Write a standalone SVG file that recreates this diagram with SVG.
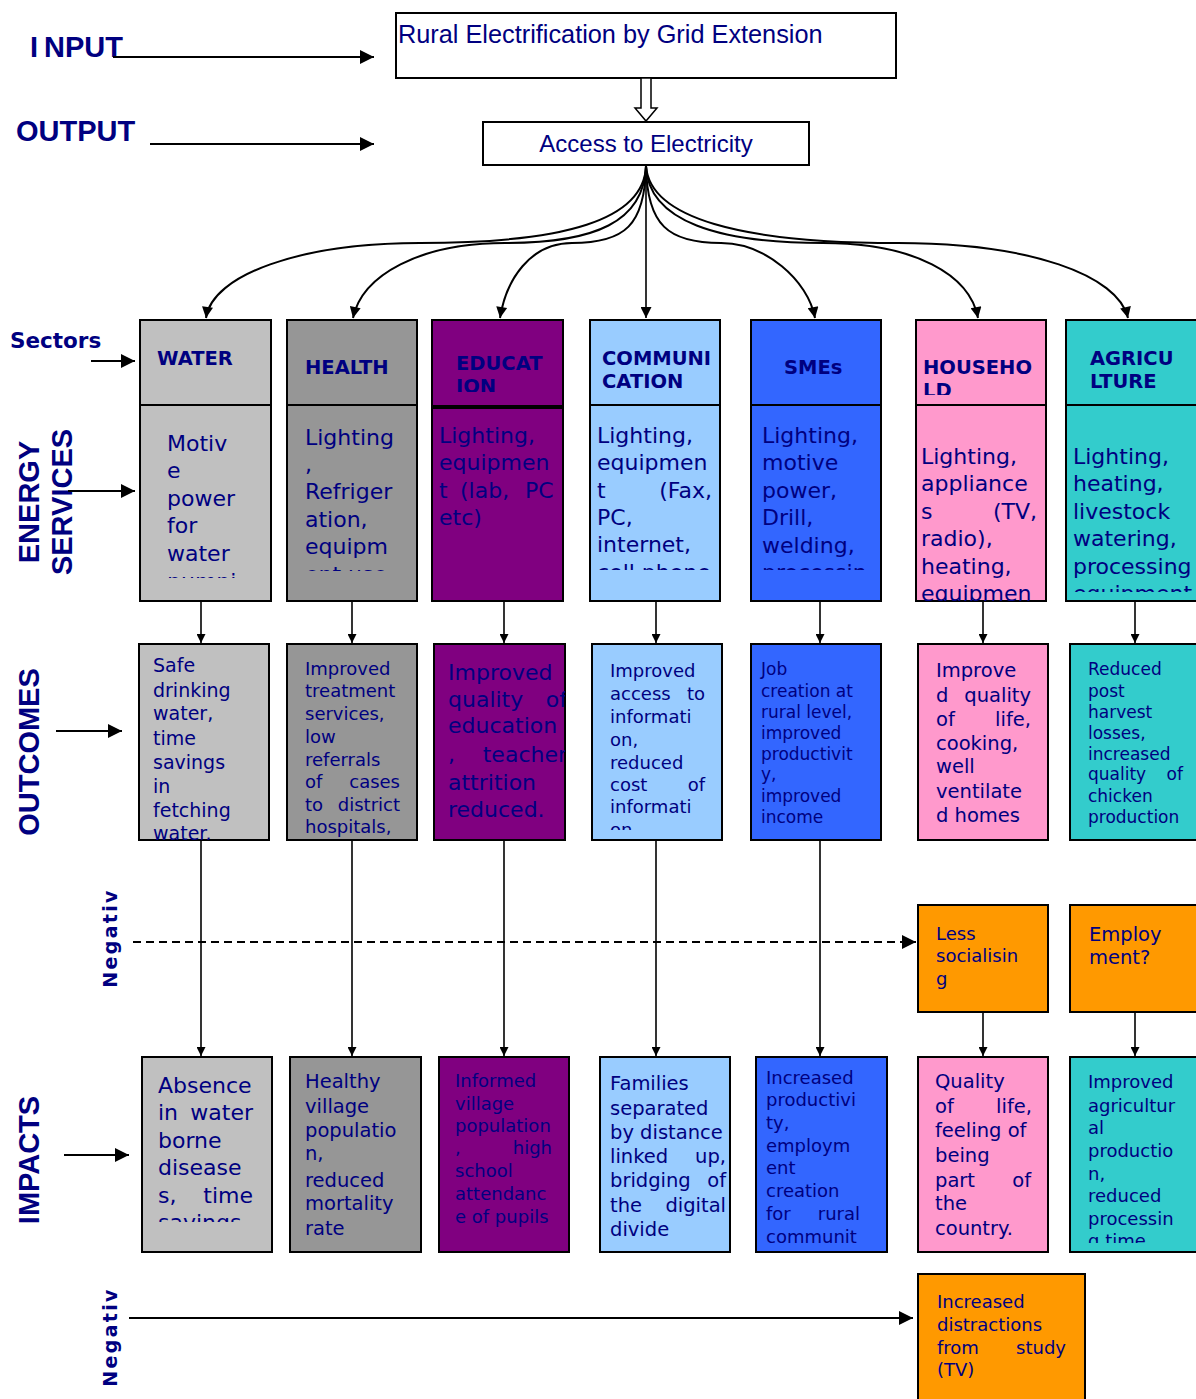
<svg xmlns="http://www.w3.org/2000/svg" width="1196" height="1399" viewBox="0 0 1196 1399">
<style>
.bx{stroke:#000;stroke-width:2}
.t{font-family:"DejaVu Sans",Verdana,sans-serif;fill:#000080}
.h{font-family:"DejaVu Sans",Verdana,sans-serif;font-weight:bold;fill:#000080;font-size:19.5px}
.lab{font-family:"Liberation Sans",Arial,sans-serif;font-weight:bold;fill:#000080;font-size:29px}
.ar{font-family:"Liberation Sans",Arial,sans-serif;fill:#000080}
.r{text-anchor:end}
.f22{font-size:22px}.f19{font-size:19.5px}.f18{font-size:18px}.f17{font-size:17px}
.ln{stroke:#000;stroke-width:2;fill:none}
.lv{stroke:#000;stroke-width:1.6;fill:none}
</style>
<defs>
<marker id="big" viewBox="0 0 10 10" refX="10" refY="5" markerUnits="userSpaceOnUse" markerWidth="15" markerHeight="14" orient="auto"><path d="M0,0L10,5L0,10z" fill="#000"/></marker>
<marker id="mid" viewBox="0 0 10 10" refX="10" refY="5" markerUnits="userSpaceOnUse" markerWidth="17" markerHeight="11" orient="auto"><path d="M0,0L10,5L0,10z" fill="#000"/></marker>
<marker id="sm" viewBox="0 0 10 10" refX="10" refY="5" markerUnits="userSpaceOnUse" markerWidth="11" markerHeight="9" orient="auto"><path d="M0,0L10,5L0,10z" fill="#000"/></marker>
<clipPath id="c1"><rect x="140" y="405" width="131" height="173"/></clipPath>
<clipPath id="c2"><rect x="287" y="405" width="130" height="166"/></clipPath>
<clipPath id="c4"><rect x="590" y="405" width="130" height="165"/></clipPath>
<clipPath id="c5"><rect x="751" y="405" width="130" height="165"/></clipPath>
<clipPath id="c6"><rect x="916" y="405" width="130" height="196"/></clipPath>
<clipPath id="c7"><rect x="1066" y="405" width="130" height="187"/></clipPath>
<clipPath id="hc3"><rect x="432" y="320" width="131" height="72"/></clipPath>
<clipPath id="hc4"><rect x="590" y="320" width="130" height="70"/></clipPath>
<clipPath id="hc6"><rect x="916" y="320" width="130" height="75"/></clipPath>
<clipPath id="hc7"><rect x="1066" y="320" width="130" height="70"/></clipPath>
<clipPath id="oc3"><rect x="434" y="644" width="131" height="196"/></clipPath>
<clipPath id="oc4"><rect x="592" y="644" width="130" height="186"/></clipPath>
<clipPath id="ic1"><rect x="142" y="1057" width="130" height="165"/></clipPath>
<clipPath id="ic5"><rect x="756" y="1057" width="131" height="193"/></clipPath>
<clipPath id="ic7"><rect x="1070" y="1057" width="126" height="186"/></clipPath>
</defs>
<rect width="1196" height="1399" fill="#fff"/>

<!-- left labels -->
<g id="labels">
<text class="lab" x="30" y="57">I<tspan dx="6">NPUT</tspan></text>
<text class="lab" x="16" y="141">OUTPUT</text>
<text class="h" x="10" y="348" style="font-size:21.5px">Sectors</text>
<text class="lab" transform="translate(39,502) rotate(-90)" text-anchor="middle">ENERGY</text>
<text class="lab" transform="translate(72,502) rotate(-90)" text-anchor="middle">SERVICES</text>
<text class="lab" transform="translate(39,752) rotate(-90)" text-anchor="middle">OUTCOMES</text>
<text class="lab" transform="translate(39,1160) rotate(-90)" text-anchor="middle">IMPACTS</text>
<text class="h" transform="translate(117,938) rotate(-90)" text-anchor="middle" style="font-size:19px;letter-spacing:2.3px">Negativ</text>
<text class="h" transform="translate(117,1337) rotate(-90)" text-anchor="middle" style="font-size:19px;letter-spacing:2.3px">Negativ</text>
</g>

<!-- top nodes -->
<g id="input">
<rect class="bx" x="396" y="13" width="500" height="65" fill="#fff"/>
<text class="ar" x="398" y="43" style="font-size:25.3px">Rural Electrification by Grid Extension</text>
</g>
<g id="output">
<rect class="bx" x="483" y="122" width="326" height="43" fill="#fff"/>
<text class="ar" x="646" y="152" text-anchor="middle" style="font-size:24px">Access to Electricity</text>
</g>

<!-- sectors -->
<g id="water-sector">
<rect class="bx" x="140" y="320" width="131" height="85" fill="#C0C0C0"/>
<rect class="bx" x="140" y="405" width="131" height="196" fill="#C0C0C0"/>
<text class="h" x="157" y="365">WATER</text>
<text class="t f22" clip-path="url(#c1)"><tspan x="167" y="451">Motiv</tspan><tspan x="167" y="478">e</tspan><tspan x="167" y="506">power</tspan><tspan x="167" y="533">for</tspan><tspan x="167" y="561">water</tspan><tspan x="167" y="589">pumpi</tspan></text>
</g>
<g id="health-sector">
<rect class="bx" x="287" y="320" width="130" height="85" fill="#969696"/>
<rect class="bx" x="287" y="405" width="130" height="196" fill="#969696"/>
<text class="h" x="305" y="374">HEALTH</text>
<text class="t f22" clip-path="url(#c2)"><tspan x="305" y="445">Lighting</tspan><tspan x="305" y="472">,</tspan><tspan x="305" y="499">Refriger</tspan><tspan x="305" y="527">ation,</tspan><tspan x="305" y="554">equipm</tspan><tspan x="305" y="582">ent use</tspan></text>
</g>
<g id="education-sector">
<rect class="bx" x="432" y="320" width="131" height="86" fill="#800080"/>
<rect class="bx" x="432" y="408" width="131" height="193" fill="#800080"/>
<text class="h" clip-path="url(#hc3)"><tspan x="456" y="370">EDUCAT</tspan><tspan x="456" y="393">ION</tspan></text>
<text class="t f22"><tspan x="439" y="443">Lighting,</tspan><tspan x="439" y="470">equipmen</tspan><tspan x="439" y="498">t</tspan><tspan x="460" y="498">(lab,</tspan><tspan x="525" y="498">PC</tspan><tspan x="439" y="525">etc)</tspan></text>
</g>
<g id="communication-sector">
<rect class="bx" x="590" y="320" width="130" height="85" fill="#99CCFF"/>
<rect class="bx" x="590" y="405" width="130" height="196" fill="#99CCFF"/>
<text class="h" clip-path="url(#hc4)"><tspan x="602" y="365">COMMUNI</tspan><tspan x="602" y="388">CATION</tspan></text>
<g clip-path="url(#c4)">
<text class="t f22"><tspan x="597" y="443">Lighting,</tspan><tspan x="597" y="470">equipmen</tspan><tspan x="597" y="498">t</tspan><tspan x="597" y="525">PC,</tspan><tspan x="597" y="552">internet,</tspan><tspan x="597" y="580">cell phone</tspan></text>
<text class="t f22 r" x="712" y="498">(Fax,</text>
</g>
</g>
<g id="smes-sector">
<rect class="bx" x="751" y="320" width="130" height="85" fill="#3366FF"/>
<rect class="bx" x="751" y="405" width="130" height="196" fill="#3366FF"/>
<text class="h" x="784" y="374">SMEs</text>
<text class="t f22" clip-path="url(#c5)"><tspan x="762" y="443">Lighting,</tspan><tspan x="762" y="470">motive</tspan><tspan x="762" y="498">power,</tspan><tspan x="762" y="525">Drill,</tspan><tspan x="762" y="553">welding,</tspan><tspan x="762" y="580">processin</tspan></text>
</g>
<g id="household-sector">
<rect class="bx" x="916" y="320" width="130" height="85" fill="#FF99CC"/>
<rect class="bx" x="916" y="405" width="130" height="196" fill="#FF99CC"/>
<text class="h" clip-path="url(#hc6)"><tspan x="923" y="374">HOUSEHO</tspan><tspan x="923" y="397">LD</tspan></text>
<g clip-path="url(#c6)">
<text class="t f22"><tspan x="921" y="464">Lighting,</tspan><tspan x="921" y="491">appliance</tspan><tspan x="921" y="519">s</tspan><tspan x="921" y="546">radio),</tspan><tspan x="921" y="574">heating,</tspan><tspan x="921" y="601">equipmen</tspan></text>
<text class="t f22 r" x="1037" y="519">(TV,</text>
</g>
</g>
<g id="agriculture-sector">
<rect class="bx" x="1066" y="320" width="132" height="85" fill="#33CCCC"/>
<rect class="bx" x="1066" y="405" width="132" height="196" fill="#33CCCC"/>
<text class="h" clip-path="url(#hc7)"><tspan x="1090" y="365">AGRICU</tspan><tspan x="1090" y="388">LTURE</tspan></text>
<text class="t f22" clip-path="url(#c7)"><tspan x="1073" y="464">Lighting,</tspan><tspan x="1073" y="491">heating,</tspan><tspan x="1073" y="519">livestock</tspan><tspan x="1073" y="546">watering,</tspan><tspan x="1073" y="574">processing</tspan><tspan x="1073" y="601">equipment</tspan></text>
</g>

<!-- outcomes -->
<g id="water-outcome">
<rect class="bx" x="139" y="644" width="130" height="196" fill="#C0C0C0"/>
<text class="t f19" style="font-size:19px"><tspan x="153" y="672">Safe</tspan><tspan x="153" y="697">drinking</tspan><tspan x="153" y="720">water,</tspan><tspan x="153" y="745">time</tspan><tspan x="153" y="769">savings</tspan><tspan x="153" y="793">in</tspan><tspan x="153" y="817">fetching</tspan><tspan x="153" y="840">water.</tspan></text>
</g>
<g id="health-outcome">
<rect class="bx" x="287" y="644" width="130" height="196" fill="#969696"/>
<text class="t f18"><tspan x="305" y="675">Improved</tspan><tspan x="305" y="697">treatment</tspan><tspan x="305" y="720">services,</tspan><tspan x="305" y="743">low</tspan><tspan x="305" y="766">referrals</tspan><tspan x="305" y="788">of</tspan><tspan x="305" y="811">to</tspan><tspan x="305" y="833">hospitals,</tspan></text>
<text class="t f18 r" x="400" y="788">cases</text>
<text class="t f18 r" x="400" y="811">district</text>
</g>
<g id="education-outcome">
<rect class="bx" x="434" y="644" width="131" height="196" fill="#800080"/>
<g clip-path="url(#oc3)">
<text class="t f22"><tspan x="448" y="680">Improved</tspan><tspan x="448" y="707">quality</tspan><tspan x="448" y="733">education</tspan><tspan x="448" y="762">,</tspan><tspan x="448" y="790">attrition</tspan><tspan x="448" y="817">reduced.</tspan></text>
<text class="t f22 r" x="567" y="707">of</text>
<text class="t f22 r" x="567" y="762">teacher</text>
</g>
</g>
<g id="communication-outcome">
<rect class="bx" x="592" y="644" width="130" height="196" fill="#99CCFF"/>
<g clip-path="url(#oc4)">
<text class="t f18"><tspan x="610" y="677">Improved</tspan><tspan x="610" y="700">access</tspan><tspan x="610" y="723">informati</tspan><tspan x="610" y="746">on,</tspan><tspan x="610" y="769">reduced</tspan><tspan x="610" y="791">cost</tspan><tspan x="610" y="813">informati</tspan><tspan x="610" y="836">on</tspan></text>
<text class="t f18 r" x="705" y="700">to</text>
<text class="t f18 r" x="705" y="791">of</text>
</g>
</g>
<g id="smes-outcome">
<rect class="bx" x="751" y="644" width="130" height="196" fill="#3366FF"/>
<text class="t f17"><tspan x="761" y="675">Job</tspan><tspan x="761" y="697">creation at</tspan><tspan x="761" y="718">rural level,</tspan><tspan x="761" y="739">improved</tspan><tspan x="761" y="760">productivit</tspan><tspan x="761" y="780">y,</tspan><tspan x="761" y="802">improved</tspan><tspan x="761" y="823">income</tspan></text>
</g>
<g id="household-outcome">
<rect class="bx" x="918" y="644" width="130" height="196" fill="#FF99CC"/>
<text class="t f19"><tspan x="936" y="677">Improve</tspan><tspan x="936" y="702">d</tspan><tspan x="936" y="726">of</tspan><tspan x="936" y="750">cooking,</tspan><tspan x="936" y="773">well</tspan><tspan x="936" y="798">ventilate</tspan><tspan x="936" y="822">d homes</tspan></text>
<text class="t f19 r" x="1031" y="702">quality</text>
<text class="t f19 r" x="1031" y="726">life,</text>
</g>
<g id="agriculture-outcome">
<rect class="bx" x="1070" y="644" width="128" height="196" fill="#33CCCC"/>
<text class="t f17"><tspan x="1088" y="675">Reduced</tspan><tspan x="1088" y="697">post</tspan><tspan x="1088" y="718">harvest</tspan><tspan x="1088" y="739">losses,</tspan><tspan x="1088" y="760">increased</tspan><tspan x="1088" y="780">quality</tspan><tspan x="1088" y="802">chicken</tspan><tspan x="1088" y="823">production</tspan></text>
<text class="t f17 r" x="1183" y="780">of</text>
</g>

<!-- negative outcomes -->
<g id="neg-socialising">
<rect class="bx" x="918" y="905" width="130" height="107" fill="#FF9900"/>
<text class="t f18"><tspan x="936" y="940">Less</tspan><tspan x="936" y="962">socialisin</tspan><tspan x="936" y="985">g</tspan></text>
</g>
<g id="neg-employment">
<rect class="bx" x="1070" y="905" width="128" height="107" fill="#FF9900"/>
<text class="t f19"><tspan x="1089" y="941">Employ</tspan><tspan x="1089" y="964">ment?</tspan></text>
</g>

<!-- impacts -->
<g id="water-impact">
<rect class="bx" x="142" y="1057" width="130" height="195" fill="#C0C0C0"/>
<g clip-path="url(#ic1)">
<text class="t f22"><tspan x="158" y="1093">Absence</tspan><tspan x="158" y="1120">in</tspan><tspan x="158" y="1148">borne</tspan><tspan x="158" y="1175">disease</tspan><tspan x="158" y="1203">s,</tspan><tspan x="158" y="1230">savings</tspan></text>
<text class="t f22 r" x="253" y="1120">water</text>
<text class="t f22 r" x="253" y="1203">time</text>
</g>
</g>
<g id="health-impact">
<rect class="bx" x="290" y="1057" width="131" height="195" fill="#969696"/>
<text class="t f19"><tspan x="305" y="1088">Healthy</tspan><tspan x="305" y="1113">village</tspan><tspan x="305" y="1137">populatio</tspan><tspan x="305" y="1160">n,</tspan><tspan x="305" y="1187">reduced</tspan><tspan x="305" y="1210">mortality</tspan><tspan x="305" y="1235">rate</tspan></text>
</g>
<g id="education-impact">
<rect class="bx" x="439" y="1057" width="130" height="195" fill="#800080"/>
<text class="t f18"><tspan x="455" y="1087">Informed</tspan><tspan x="455" y="1110">village</tspan><tspan x="455" y="1132">population</tspan><tspan x="455" y="1154">,</tspan><tspan x="455" y="1177">school</tspan><tspan x="455" y="1200">attendanc</tspan><tspan x="455" y="1223">e of pupils</tspan></text>
<text class="t f18 r" x="552" y="1154">high</text>
</g>
<g id="communication-impact">
<rect class="bx" x="600" y="1057" width="130" height="195" fill="#99CCFF"/>
<text class="t f19"><tspan x="610" y="1090">Families</tspan><tspan x="610" y="1115">separated</tspan><tspan x="610" y="1139">by distance</tspan><tspan x="610" y="1163">linked</tspan><tspan x="610" y="1187">bridging</tspan><tspan x="610" y="1212">the</tspan><tspan x="610" y="1236">divide</tspan></text>
<text class="t f19 r" x="726" y="1163">up,</text>
<text class="t f19 r" x="726" y="1187">of</text>
<text class="t f19 r" x="726" y="1212">digital</text>
</g>
<g id="smes-impact">
<rect class="bx" x="756" y="1057" width="131" height="195" fill="#3366FF"/>
<g clip-path="url(#ic5)">
<text class="t f18"><tspan x="766" y="1084">Increased</tspan><tspan x="766" y="1106">productivi</tspan><tspan x="766" y="1129">ty,</tspan><tspan x="766" y="1152">employm</tspan><tspan x="766" y="1174">ent</tspan><tspan x="766" y="1197">creation</tspan><tspan x="766" y="1220">for</tspan><tspan x="766" y="1243">communit</tspan></text>
<text class="t f18 r" x="860" y="1220">rural</text>
</g>
</g>
<g id="household-impact">
<rect class="bx" x="918" y="1057" width="130" height="195" fill="#FF99CC"/>
<text class="t f19"><tspan x="935" y="1088">Quality</tspan><tspan x="935" y="1113">of</tspan><tspan x="935" y="1137">feeling of</tspan><tspan x="935" y="1162">being</tspan><tspan x="935" y="1187">part</tspan><tspan x="935" y="1210">the</tspan><tspan x="935" y="1235">country.</tspan></text>
<text class="t f19 r" x="1032" y="1113">life,</text>
<text class="t f19 r" x="1031" y="1187">of</text>
</g>
<g id="agriculture-impact">
<rect class="bx" x="1070" y="1057" width="128" height="195" fill="#33CCCC"/>
<text class="t f18" clip-path="url(#ic7)"><tspan x="1088" y="1088">Improved</tspan><tspan x="1088" y="1112">agricultur</tspan><tspan x="1088" y="1134">al</tspan><tspan x="1088" y="1157">productio</tspan><tspan x="1088" y="1180">n,</tspan><tspan x="1088" y="1202">reduced</tspan><tspan x="1088" y="1225">processin</tspan><tspan x="1088" y="1247">g time</tspan></text>
</g>
<g id="neg-distractions">
<rect class="bx" x="918" y="1274" width="167" height="130" fill="#FF9900"/>
<text class="t f18"><tspan x="937" y="1308">Increased</tspan><tspan x="937" y="1331">distractions</tspan><tspan x="937" y="1354">from</tspan><tspan x="937" y="1376">(TV)</tspan></text>
<text class="t f18 r" x="1066" y="1354">study</text>
</g>

<!-- connectors -->
<g id="connectors">
<polygon points="641,78 651,78 651,108 657,108 646,121 635,108 641,108" fill="#fff" stroke="#000" stroke-width="1.5"/>
<line class="ln" x1="113" y1="57" x2="374" y2="57" marker-end="url(#big)"/>
<line class="ln" x1="150" y1="144" x2="374" y2="144" marker-end="url(#big)"/>
<line class="ln" x1="91" y1="361" x2="135" y2="361" marker-end="url(#big)"/>
<line class="ln" x1="68" y1="491" x2="135" y2="491" marker-end="url(#big)"/>
<line class="ln" x1="56" y1="731" x2="122" y2="731" marker-end="url(#big)"/>
<line class="ln" x1="64" y1="1155" x2="129" y2="1155" marker-end="url(#big)"/>
<line class="ln" x1="133" y1="942" x2="916" y2="942" stroke-dasharray="8,5" marker-end="url(#big)"/>
<line class="ln" x1="129" y1="1318" x2="913" y2="1318" marker-end="url(#big)"/>

<path class="ln" d="M646,166 C644,220 565,243 420,243 C300,243 212,275 206,318" marker-end="url(#mid)"/>
<path class="ln" d="M646,166 C644,222 595,243 505,243 C420,243 362,275 353,318" marker-end="url(#mid)"/>
<path class="ln" d="M646,166 C645,225 625,243 572,243 C530,243 506,280 500,318" marker-end="url(#mid)"/>
<line class="lv" x1="646" y1="166" x2="646" y2="318" marker-end="url(#mid)"/>
<path class="ln" d="M646,166 C647,225 668,243 721,243 C765,243 808,280 815,318" marker-end="url(#mid)"/>
<path class="ln" d="M646,166 C648,222 720,243 823,243 C915,243 970,275 978,318" marker-end="url(#mid)"/>
<path class="ln" d="M646,166 C650,218 740,243 898,243 C1030,243 1118,275 1128,318" marker-end="url(#mid)"/>

<line class="lv" x1="201" y1="601" x2="201" y2="643" marker-end="url(#sm)"/>
<line class="lv" x1="352" y1="601" x2="352" y2="643" marker-end="url(#sm)"/>
<line class="lv" x1="504" y1="601" x2="504" y2="643" marker-end="url(#sm)"/>
<line class="lv" x1="656" y1="601" x2="656" y2="643" marker-end="url(#sm)"/>
<line class="lv" x1="820" y1="601" x2="820" y2="643" marker-end="url(#sm)"/>
<line class="lv" x1="983" y1="601" x2="983" y2="643" marker-end="url(#sm)"/>
<line class="lv" x1="1135" y1="601" x2="1135" y2="643" marker-end="url(#sm)"/>

<line class="lv" x1="201" y1="840" x2="201" y2="1056" marker-end="url(#sm)"/>
<line class="lv" x1="352" y1="840" x2="352" y2="1056" marker-end="url(#sm)"/>
<line class="lv" x1="504" y1="840" x2="504" y2="1056" marker-end="url(#sm)"/>
<line class="lv" x1="656" y1="840" x2="656" y2="1056" marker-end="url(#sm)"/>
<line class="lv" x1="820" y1="840" x2="820" y2="1056" marker-end="url(#sm)"/>
<line class="lv" x1="983" y1="1012" x2="983" y2="1056" marker-end="url(#sm)"/>
<line class="lv" x1="1135" y1="1012" x2="1135" y2="1056" marker-end="url(#sm)"/>
</g>
</svg>
